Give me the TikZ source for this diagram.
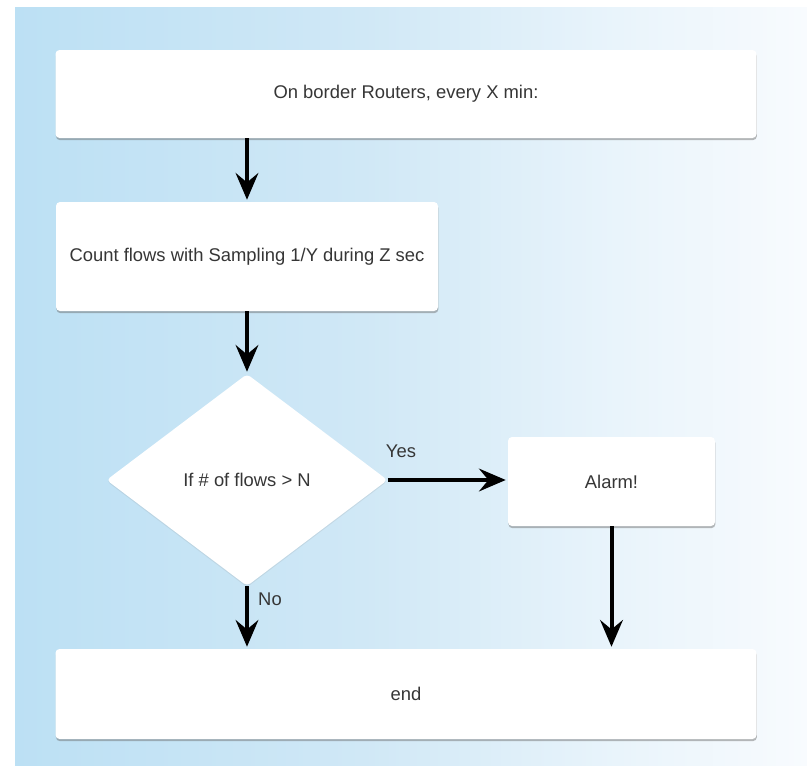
\documentclass[tikz,border=0pt]{standalone}
\usepackage{fontspec}
\setmainfont{Liberation Sans}
\usetikzlibrary{shapes.geometric,arrows.meta,shadows}

\definecolor{txt}{HTML}{363636}
\definecolor{bgA}{HTML}{BCE0F4}
\definecolor{bgB}{HTML}{D0E8F6}
\definecolor{bgC}{HTML}{E9F4FB}
\definecolor{bgD}{HTML}{F8FBFE}

% soft blue panel that fades to white towards the right
\pgfdeclarehorizontalshading{panelshade}{100bp}{%
  color(0bp)=(bgA); color(25bp)=(bgA); color(47bp)=(bgB);
  color(63bp)=(bgC); color(75bp)=(bgD); color(100bp)=(bgD)}

\tikzset{
  txtfont/.style={font=\fontsize{13.8}{16}\selectfont, text=txt},
  box/.style={txtfont, fill=white, rounded corners=3pt, inner sep=0pt,
    drop shadow={shadow xshift=0.3pt, shadow yshift=-1.6pt,
                 opacity=0.45, fill=black!60}},
  decision/.style={txtfont, diamond, fill=white, inner sep=0pt,
    rounded corners=3pt,
    drop shadow={shadow xshift=0pt, shadow yshift=-1pt,
                 opacity=0.15, fill=black!50}},
  arr/.style={line width=3pt, draw=black, shorten >=1.5pt,
    -{Stealth[length=20pt, width=17pt, inset=7pt]}},
  lbl/.style={txtfont}
}

\begin{document}
\begin{tikzpicture}[x=0.75pt, y=-0.75pt]
  \useasboundingbox (0,0) rectangle (807,765);
  \fill[white] (0,0) rectangle (807,765);
  \shade[shading=panelshade] (15,7.5) rectangle (807,765);

  % process steps
  \node[box, minimum width=525.75pt, minimum height=66pt]
    (start) at (406,94) {On border Routers, every X min:};
  \node[box, minimum width=286.5pt, minimum height=81.75pt]
    (count) at (247,256.5) {Count flows with Sampling 1/Y during Z sec};
  \node[decision, minimum width=210.75pt, minimum height=159pt]
    (test) at (247,480) {If \# of flows > N};
  \node[box, minimum width=155.25pt, minimum height=66.75pt]
    (alarm) at (611.5,481.5) {Alarm!};
  \node[box, minimum width=525.75pt, minimum height=67.5pt]
    (stop) at (406,694) {end};

  % branch labels
  \node[lbl] (yes) at (401,451) {Yes};
  \node[lbl] (no) at (270,599) {No};

  % connectors
  \draw[arr] (start.south -| count.north) -- (count.north);
  \draw[arr] (count.south) -- (test.north);
  \draw[arr] (test.east) -- (test.east -| alarm.west);
  \draw[arr] (test.south) -- (test.south |- stop.north);
  \draw[arr] (alarm.south) -- (alarm.south |- stop.north);
\end{tikzpicture}
\end{document}
